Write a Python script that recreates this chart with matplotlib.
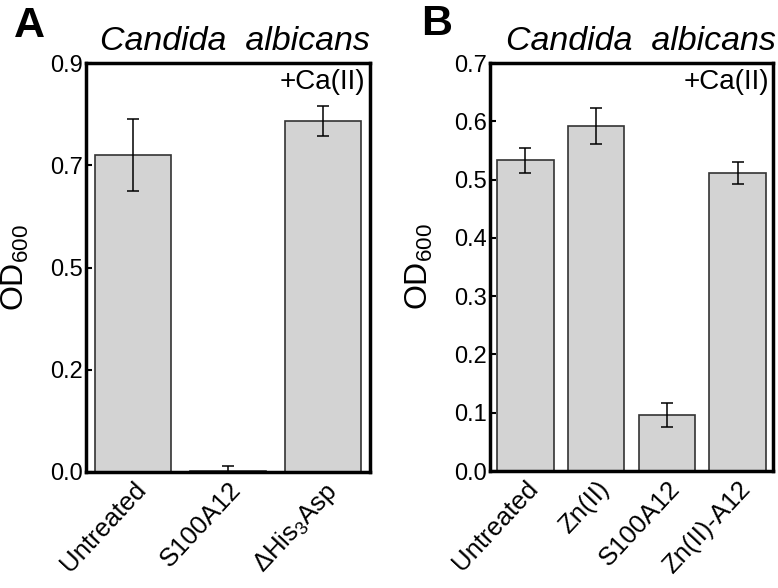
import matplotlib
matplotlib.use("Agg")
import matplotlib.pyplot as plt
import numpy as np

plt.rcParams['font.family'] = ['Liberation Sans', 'DejaVu Sans']
plt.rcParams['mathtext.fontset'] = 'custom'
plt.rcParams['mathtext.rm'] = 'Liberation Sans'
plt.rcParams['mathtext.it'] = 'Liberation Sans:italic'

# Panel A data
cats_a = ["Untreated", "S100A12", r"$\mathregular{\Delta His_3Asp}$"]
vals_a = [0.698, 0.003, 0.773]
errs_a = [0.079, 0.011, 0.033]
yticks_a = [0.0, 0.225, 0.45, 0.675, 0.9]
yticklabels_a = ["0.0", "0.2", "0.5", "0.7", "0.9"]

# Panel B data
cats_b = ["Untreated", "Zn(II)", "S100A12", "Zn(II)-A12"]
vals_b = [0.533, 0.592, 0.096, 0.511]
errs_b = [0.022, 0.031, 0.020, 0.019]
yticks_b = [0.0, 0.1, 0.2, 0.3, 0.4, 0.5, 0.6, 0.7]
yticklabels_b = ["0.0", "0.1", "0.2", "0.3", "0.4", "0.5", "0.6", "0.7"]

fig = plt.figure(figsize=(7.78, 5.88), dpi=100)
axA = fig.add_axes([86/778, 1-472/588, (370-86)/778, (472-63)/588])
axB = fig.add_axes([490/778, 1-471/588, (773-490)/778, (471-63)/588])

def style(ax, cats, vals, errs, yt, ytl, ymax):
    x = np.arange(len(cats))
    ax.bar(x, vals, width=0.8, color='#d3d3d3', edgecolor='#333333', linewidth=1.2, zorder=2)
    ax.errorbar(x, vals, yerr=errs, fmt='none', ecolor='black', elinewidth=1.1, capsize=4, capthick=1.1, zorder=3)
    ax.set_xlim(-0.5, len(cats)-0.5)
    ax.set_ylim(0, ymax)
    ax.set_yticks(yt)
    ax.set_yticklabels(ytl, fontsize=17)
    ax.set_xticks(x)
    ax.set_xticklabels(cats, rotation=47, ha='right', rotation_mode='anchor', fontsize=18.5)
    ax.tick_params(axis='x', length=0, pad=4)
    ax.tick_params(axis='y', direction='in', length=4, width=1.5, pad=2)
    for s in ax.spines.values():
        s.set_linewidth(2.5)
    ax.set_ylabel(r'OD$_{600}$', fontsize=23, labelpad=14)
    ax.text(0.985, 0.985, '+Ca(II)', transform=ax.transAxes, ha='right', va='top', fontsize=20)

style(axA, cats_a, vals_a, errs_a, yticks_a, yticklabels_a, 0.9)
style(axB, cats_b, vals_b, errs_b, yticks_b, yticklabels_b, 0.7)

fig.text(370/778, 1-50/588, 'Candida  albicans', style='italic', fontsize=24.5, ha='right', va='baseline')
fig.text(776/778, 1-50/588, 'Candida  albicans', style='italic', fontsize=24.5, ha='right', va='baseline')
fig.text(14/778, 1-37/588, 'A', fontweight='bold', fontsize=31, ha='left', va='baseline')
fig.text(421/778, 1-35/588, 'B', fontweight='bold', fontsize=31, ha='left', va='baseline')

fig.savefig('out.png', dpi=100)
